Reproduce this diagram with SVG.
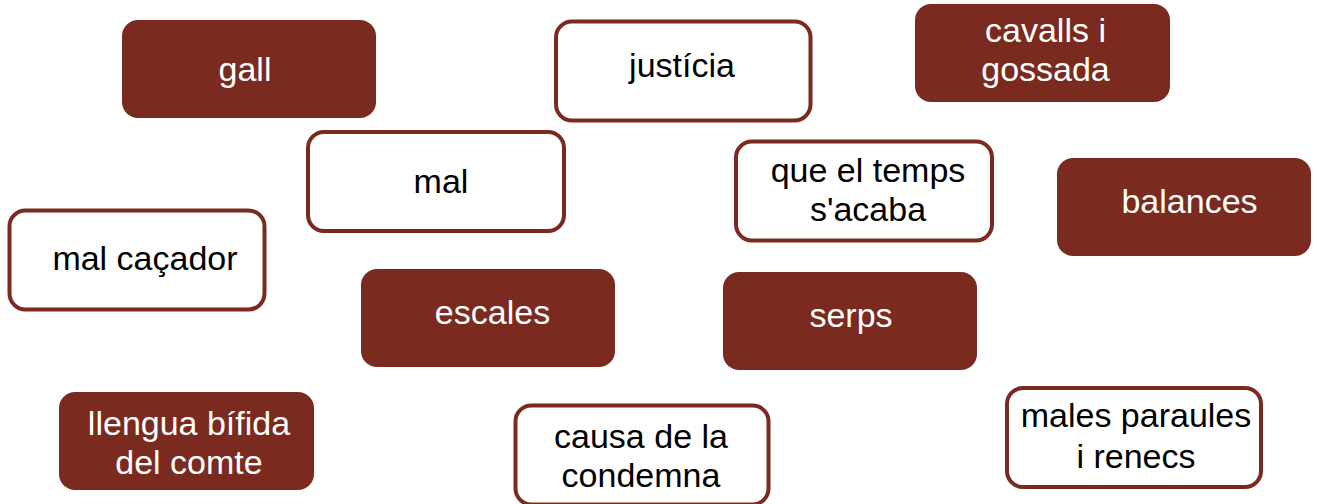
<svg xmlns="http://www.w3.org/2000/svg" width="1317" height="504" viewBox="0 0 1317 504">
<style>
.f{fill:#7a2a1f;stroke:none}
.o{fill:#ffffff;stroke:#7a2a1f;stroke-width:4}
text{font-family:"Liberation Sans",Arial,sans-serif;font-size:34px;text-anchor:middle}
.tw{fill:#ffffff}
.tb{fill:#000000}
</style>
<rect width="1317" height="504" fill="#ffffff"/>
<g id="connectors"></g>
<g id="gall"><rect class="f" x="122" y="20" width="254" height="98" rx="16"/><text class="tw" x="245" y="81">gall</text></g>
<g id="justicia"><rect class="o" x="556" y="21.5" width="254.5" height="99" rx="16"/><text class="tb" x="682" y="77">justícia</text></g>
<g id="cavalls"><rect class="f" x="915" y="4" width="255" height="98" rx="16"/><text class="tw" x="1045.5" y="42">cavalls i</text><text class="tw" x="1045.5" y="80.5">gossada</text></g>
<g id="mal"><rect class="o" x="308" y="132" width="256" height="99" rx="16"/><text class="tb" x="441" y="193">mal</text></g>
<g id="temps"><rect class="o" x="736" y="141.5" width="256" height="99" rx="16"/><text class="tb" x="868" y="182">que el temps</text><text class="tb" x="868" y="221">s'acaba</text></g>
<g id="balances"><rect class="f" x="1057" y="158" width="254" height="98" rx="16"/><text class="tw" x="1189.5" y="213">balances</text></g>
<g id="malcacador"><rect class="o" x="9.5" y="210.5" width="255" height="99" rx="16"/><text class="tb" x="145" y="269.5">mal caçador</text></g>
<g id="escales"><rect class="f" x="361" y="269" width="254" height="98" rx="16"/><text class="tw" x="492.5" y="324">escales</text></g>
<g id="serps"><rect class="f" x="723" y="272" width="254" height="98" rx="16"/><text class="tw" x="851" y="326.5">serps</text></g>
<g id="llengua"><rect class="f" x="59" y="392" width="255" height="98" rx="16"/><text class="tw" x="189" y="435">llengua bífida</text><text class="tw" x="189" y="474">del comte</text></g>
<g id="causa"><rect class="o" x="515.5" y="405.5" width="253" height="99" rx="16"/><text class="tb" x="641" y="448">causa de la</text><text class="tb" x="641" y="486.5">condemna</text></g>
<g id="males"><rect class="o" x="1007" y="388" width="254" height="99" rx="16"/><text class="tb" x="1136" y="427">males paraules</text><text class="tb" x="1136" y="468">i renecs</text></g>
</svg>
